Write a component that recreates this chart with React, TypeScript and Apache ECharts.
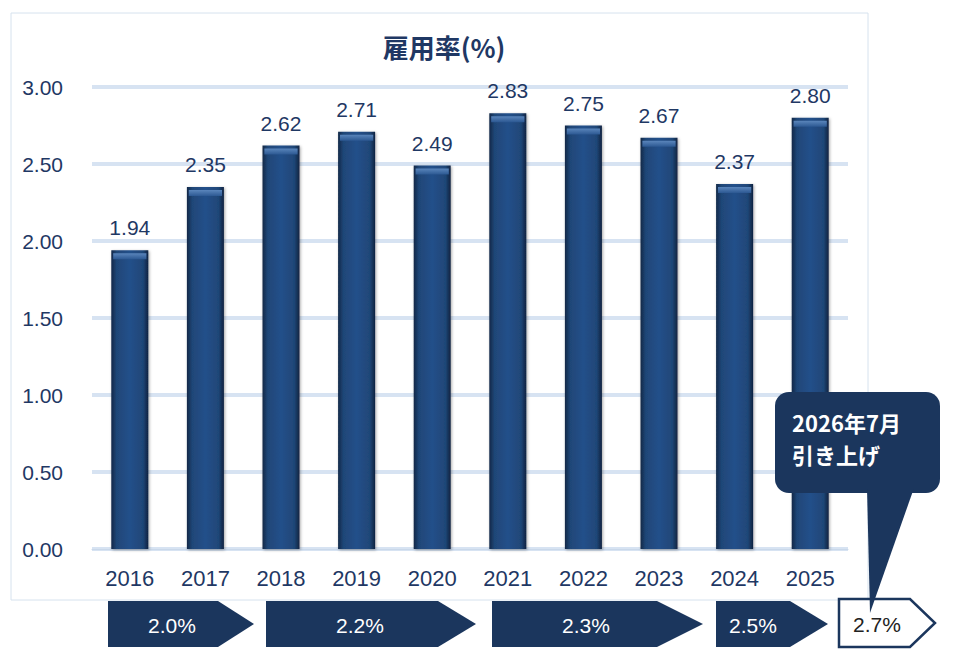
import { useEffect, useRef } from 'react';
import * as echarts from 'echarts';

const years = ['2016', '2017', '2018', '2019', '2020', '2021', '2022', '2023', '2024', '2025'];
const rates = [1.94, 2.35, 2.62, 2.71, 2.49, 2.83, 2.75, 2.67, 2.37, 2.8];
const legalRates = ['2.0%', '2.2%', '2.3%', '2.5%', '2.7%'];
const calloutLines = ['2026年7月', '引き上げ'];

const NAVY = '#1b365d';
const TEXT = '#1f3864';
const NUM_FONT = '"Liberation Sans", Arial, sans-serif';
const JP_FONT = '"Noto Sans CJK JP", sans-serif';

// arrow shapes under the axis: [left, bodyEnd, tip, textX]
const arrowShapes = [
  [108, 218, 254, 172],
  [266, 438, 476, 360],
  [492, 657, 703, 586],
  [716, 790, 828, 753],
];

export default function App() {
  const chartRef = useRef<HTMLDivElement | null>(null);

  useEffect(() => {
    if (!chartRef.current) {
      return;
    }
    const chart = echarts.init(chartRef.current, undefined, { renderer: 'svg' });

    const arrows = arrowShapes.flatMap(([l, b, t, tx], i) => [
      {
        type: 'polygon',
        shape: { points: [[l, 601], [b, 601], [t, 624], [b, 647], [l, 647]] },
        style: { fill: NAVY },
      },
      {
        type: 'text',
        x: tx,
        y: 625,
        style: { text: legalRates[i], fill: '#ffffff', font: `21px ${NUM_FONT}`, align: 'center', verticalAlign: 'middle' },
      },
    ]);

    chart.setOption({
      animation: false,
      backgroundColor: '#ffffff',
      title: {
        text: '雇用率(%)',
        left: 439,
        top: 28,
        textAlign: 'center',
        textStyle: { color: TEXT, fontSize: 26, fontWeight: 'bold', fontFamily: JP_FONT },
      },
      grid: { left: 92, right: 110, top: 87, bottom: 117 },
      xAxis: {
        type: 'category',
        data: years,
        axisTick: { show: false },
        axisLine: { lineStyle: { color: '#c9d8ea', width: 1 } },
        axisLabel: { color: TEXT, fontSize: 22, fontFamily: NUM_FONT, margin: 18 },
      },
      yAxis: {
        type: 'value',
        min: 0,
        max: 3,
        interval: 0.5,
        axisLabel: {
          color: TEXT,
          fontSize: 21,
          fontFamily: NUM_FONT,
          margin: 29,
          formatter: (v: number) => v.toFixed(2),
        },
        splitLine: { lineStyle: { color: '#d7e3f2', width: 4 } },
      },
      series: [
        {
          type: 'bar',
          data: rates,
          barWidth: 37,
          itemStyle: {
            color: new echarts.graphic.LinearGradient(0, 0, 1, 0, [
              { offset: 0, color: '#122847' },
              { offset: 0.14, color: '#1f4677' },
              { offset: 0.5, color: '#24508a' },
              { offset: 0.86, color: '#1f4677' },
              { offset: 1, color: '#0f2340' },
            ]),
            shadowColor: 'rgba(0,0,0,0.35)',
            shadowBlur: 3,
            shadowOffsetX: 1,
            shadowOffsetY: 1,
          },
          label: {
            show: true,
            position: 'top',
            distance: 12,
            color: TEXT,
            fontSize: 21,
            fontFamily: NUM_FONT,
            formatter: (p: any) => Number(p.value).toFixed(2),
          },
          z: 2,
        },
        {
          type: 'pictorialBar',
          data: rates,
          symbol: 'rect',
          symbolSize: [33, 6],
          symbolPosition: 'end',
          symbolOffset: [0, '50%'],
          itemStyle: {
            color: new echarts.graphic.LinearGradient(0, 0, 0, 1, [
              { offset: 0, color: '#5a85bb' },
              { offset: 1, color: '#2c5892' },
            ]),
          },
          z: 3,
          silent: true,
        },
      ],
      graphic: [
        {
          type: 'rect',
          shape: { x: 11, y: 13, width: 857, height: 587 },
          style: { fill: 'none', stroke: '#d6e2ee', lineWidth: 1 },
          z: -1,
        },
        ...arrows,
        {
          type: 'polygon',
          shape: { points: [[839, 599], [910, 599], [935, 623], [910, 647], [839, 647]] },
          style: { fill: '#ffffff', stroke: NAVY, lineWidth: 2.5 },
        },
        {
          type: 'text',
          x: 877,
          y: 624,
          style: { text: legalRates[4], fill: '#222222', font: `21px ${NUM_FONT}`, align: 'center', verticalAlign: 'middle' },
        },
        {
          type: 'rect',
          z: 100,
          shape: { x: 775, y: 392, width: 165, height: 101, r: 14 },
          style: { fill: NAVY },
        },
        {
          type: 'polygon',
          z: 100,
          shape: { points: [[867, 488], [914, 488], [870, 613]] },
          style: { fill: NAVY },
        },
        {
          type: 'text',
          z: 101,
          x: 792,
          y: 422,
          style: { text: calloutLines[0], fill: '#ffffff', font: `bold 22px ${JP_FONT}`, verticalAlign: 'middle' },
        },
        {
          type: 'text',
          z: 101,
          x: 792,
          y: 454,
          style: { text: calloutLines[1], fill: '#ffffff', font: `bold 22px ${JP_FONT}`, verticalAlign: 'middle' },
        },
      ],
    });

    return () => {
      chart.dispose();
    };
  }, []);

  return <div ref={chartRef} style={{ position: 'absolute', left: 0, top: 0, width: 958, height: 666 }} />;
}
